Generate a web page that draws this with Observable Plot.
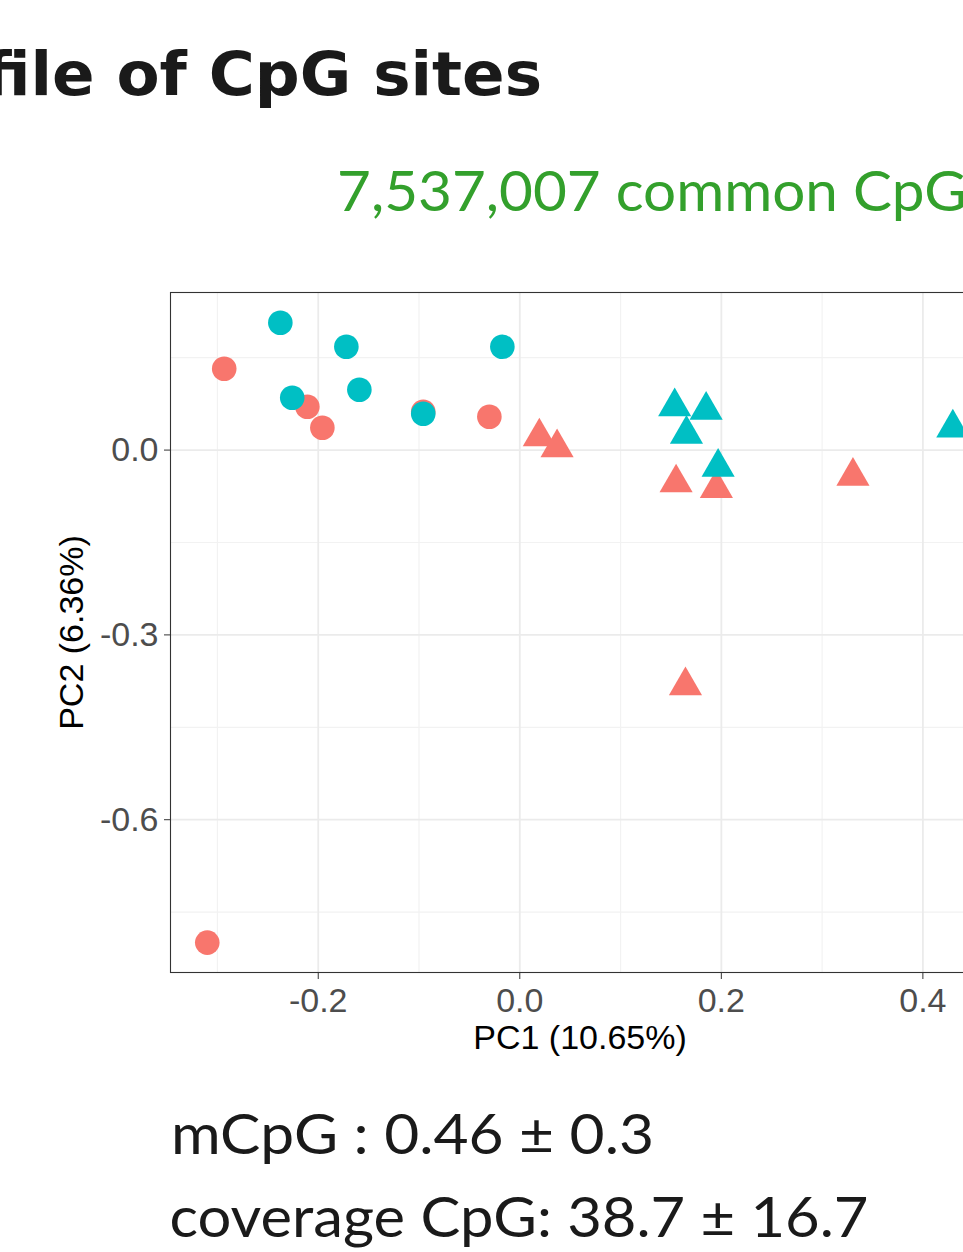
<!DOCTYPE html>
<html>
<head>
<meta charset="utf-8">
<script src="https://cdn.jsdelivr.net/npm/d3@7"></script>
<script src="https://cdn.jsdelivr.net/npm/@observablehq/plot@0.6"></script>
<style>
html, body { margin: 0; padding: 0; background: #fff; }
#page { position: relative; width: 963px; height: 1252px; overflow: hidden; background: #fff; }
#head { position: absolute; left: 0; top: 0; }
#chart { position: absolute; left: 0; top: 250px; width: 1000px; height: 820px; }
#chart svg { max-width: none !important; width: 1000px; height: 820px; display: block; }
#foot { position: absolute; left: 0; top: 1070px; }
</style>
</head>
<body>
<div id="page">
  <svg id="head" width="963" height="250">
    <text x="-16" y="95" font-family="'DejaVu Sans', Verdana, sans-serif" font-weight="bold" font-size="61" fill="#1a1a1a" textLength="558" lengthAdjust="spacingAndGlyphs">file of CpG sites</text>
    <text x="337" y="211" font-family="Lato, 'Open Sans', sans-serif" font-size="56" fill="#33a02c" textLength="630" lengthAdjust="spacingAndGlyphs">7,537,007 common CpG</text>
  </svg>
  <div id="chart"></div>
  <svg id="foot" width="963" height="182">
    <text x="171" y="83.5" font-family="Lato, 'Open Sans', sans-serif" font-size="56" fill="#1a1a1a" textLength="483" lengthAdjust="spacingAndGlyphs">mCpG : 0.46 ± 0.3</text>
    <text x="169.5" y="166.7" font-family="Lato, 'Open Sans', sans-serif" font-size="56" fill="#1a1a1a" textLength="699" lengthAdjust="spacingAndGlyphs">coverage CpG: 38.7 ± 16.7</text>
  </svg>
</div>
<script>
// PCA scores
const pc1 = [-0.2933, -0.2108, -0.1959, -0.0958, -0.0302, -0.3101,
             0.0194, 0.0370, 0.1551, 0.1951, 0.3306, 0.1644,
             -0.2376, -0.1721, -0.0173, -0.1592, -0.2258, -0.0958,
             0.1537, 0.1849, 0.1654, 0.1968, 0.4297];
const pc2 = [0.1320, 0.0703, 0.0362, 0.0622, 0.0541, -0.7995,
             0.0216, 0.0039, -0.0531, -0.0623, -0.0422, -0.3823,
             0.2067, 0.1677, 0.1677, 0.0979, 0.0849, 0.0589,
             0.0706, 0.0649, 0.0258, -0.0278, 0.0359];
const colorGroup = ["group 1","group 1","group 1","group 1","group 1","group 1",
                    "group 1","group 1","group 1","group 1","group 1","group 1",
                    "group 2","group 2","group 2","group 2","group 2","group 2",
                    "group 2","group 2","group 2","group 2","group 2"];
const shapeGroup = ["set 1","set 1","set 1","set 1","set 1","set 1",
                    "set 2","set 2","set 2","set 2","set 2","set 2",
                    "set 1","set 1","set 1","set 1","set 1","set 1",
                    "set 2","set 2","set 2","set 2","set 2"];
const colorDomain = ["group 1", "group 2"];
const colorRange = ["#F8766D", "#00BFC4"];
const shapeDomain = ["set 1", "set 2"];
const shapeRange = ["circle", "triangle"];

const xMajor = [-0.2, 0.0, 0.2, 0.4];
const xMinor = [-0.3, -0.1, 0.1, 0.3];
const yMajor = [-0.6, -0.3, 0.0];
const yMinor = [-0.75, -0.45, -0.15, 0.15];
const xTitle = "PC1 (10.65%)";
const yTitle = "PC2 (6.36%)";

const rows = pc1.map((v, i) => ({pc1: v, pc2: pc2[i], color: colorGroup[i], shape: shapeGroup[i]}));
const fmt = d => d.toFixed(1);

const chart = Plot.plot({
  width: 1000,
  height: 820,
  marginLeft: 170,
  marginRight: 11,
  marginTop: 42,
  marginBottom: 98,
  style: {fontFamily: "'Liberation Sans', Arimo, Arial, sans-serif", background: "white", maxWidth: "none"},
  x: {domain: [-0.3466, 0.4661]},
  y: {domain: [-0.848, 0.2558]},
  color: {domain: colorDomain, range: colorRange},
  symbol: {domain: shapeDomain, range: shapeRange},
  marks: [
    Plot.ruleX(xMinor, {stroke: "#F2F2F2", strokeWidth: 1.2}),
    Plot.ruleY(yMinor, {stroke: "#F2F2F2", strokeWidth: 1.2}),
    Plot.ruleX(xMajor, {stroke: "#EBEBEB", strokeWidth: 1.8}),
    Plot.ruleY(yMajor, {stroke: "#EBEBEB", strokeWidth: 1.8}),
    Plot.dot(rows, {x: "pc1", y: "pc2", fill: "color", symbol: "shape", r: 12.3, stroke: "none"}),
    Plot.frame({stroke: "#333333", strokeWidth: 1.1}),
    Plot.axisX(xMajor, {tickSize: 7, tickPadding: 8, fontSize: 34, tickFormat: fmt, stroke: "#333333", fill: "#4d4d4d", label: null}),
    Plot.axisY(yMajor, {tickSize: 6, tickPadding: 6, fontSize: 34, tickFormat: fmt, stroke: "#333333", fill: "#4d4d4d", label: null}),
    Plot.text([xTitle], {text: d => d, frameAnchor: "bottom", textAnchor: "middle", lineAnchor: "top", dy: 52, fontSize: 34, fill: "#000"}),
    Plot.text([yTitle], {text: d => d, frameAnchor: "left", textAnchor: "middle", lineAnchor: "middle", rotate: -90, dx: -98, fontSize: 34, fill: "#000"})
  ]
});
document.getElementById("chart").appendChild(chart);
</script>
</body>
</html>
